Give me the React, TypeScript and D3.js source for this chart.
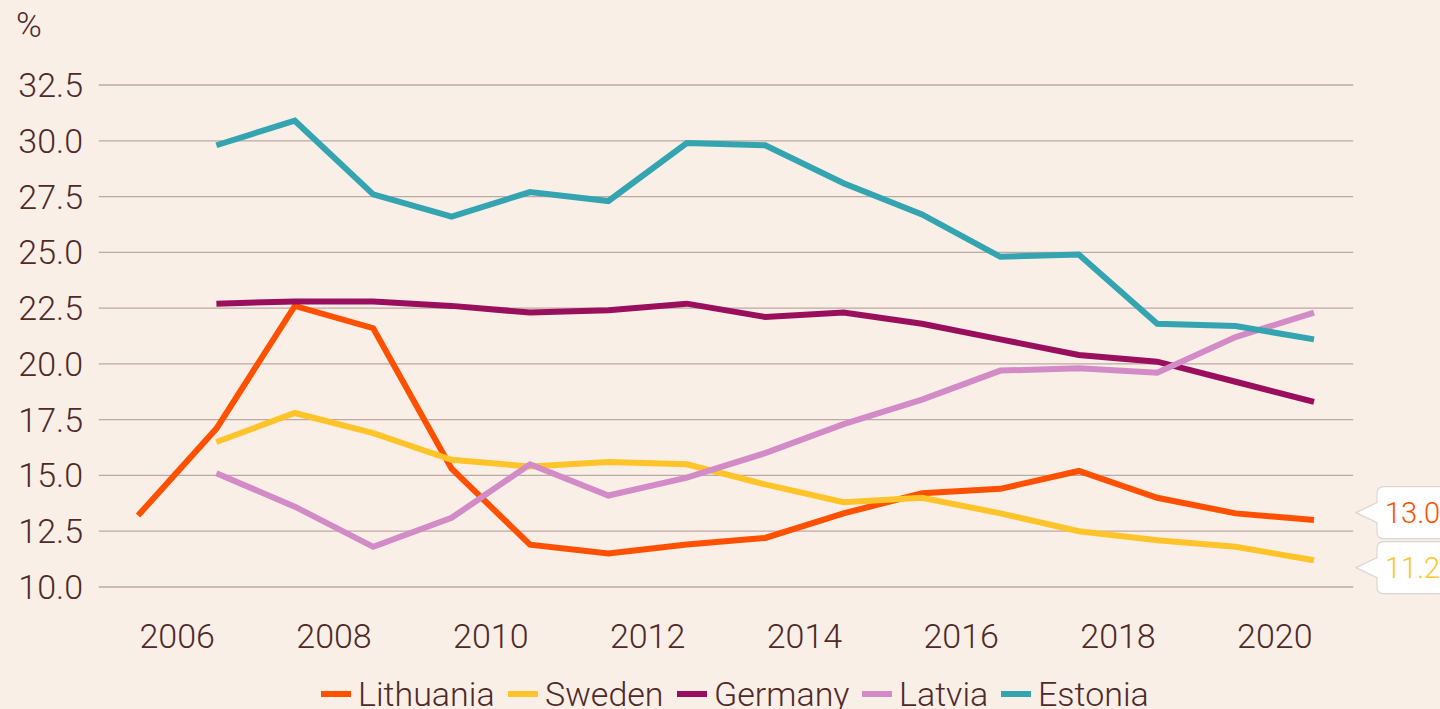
import React from "react";
import * as d3 from "d3";

const years = d3.range(2005, 2021);
const yTicks = [10.0, 12.5, 15.0, 17.5, 20.0, 22.5, 25.0, 27.5, 30.0, 32.5];
const xTickYears = [2006, 2008, 2010, 2012, 2014, 2016, 2018, 2020];

const lithuania = [13.2, 17.1, 22.6, 21.6, 15.3, 11.9, 11.5, 11.9, 12.2, 13.3, 14.2, 14.4, 15.2, 14.0, 13.3, 13.0];
const sweden = [null, 16.5, 17.8, 16.9, 15.7, 15.4, 15.6, 15.5, 14.6, 13.8, 14.0, 13.3, 12.5, 12.1, 11.8, 11.2];
const germany = [null, 22.7, 22.8, 22.8, 22.6, 22.3, 22.4, 22.7, 22.1, 22.3, 21.8, 21.1, 20.4, 20.1, 19.2, 18.3];
const latvia = [null, 15.1, 13.6, 11.8, 13.1, 15.5, 14.1, 14.9, 16.0, 17.3, 18.4, 19.7, 19.8, 19.6, 21.2, 22.3];
const estonia = [null, 29.8, 30.9, 27.6, 26.6, 27.7, 27.3, 29.9, 29.8, 28.1, 26.7, 24.8, 24.9, 21.8, 21.7, 21.1];

const seriesNames = ["Lithuania", "Sweden", "Germany", "Latvia", "Estonia"];
const seriesValues = [lithuania, sweden, germany, latvia, estonia];
const seriesColors = ["#ff5000", "#ffc42a", "#990f5d", "#d28bc6", "#33a4b0"];
const labelledSeries = ["Lithuania", "Sweden"];

const BG = "#f9efe6";
const TXT = "#4e2a2a";
const GRID = "#bba9a4";
const FONT = "Roboto, 'Noto Sans', sans-serif";

export default function App() {
  const W = 1440, H = 709;
  const x = d3.scaleLinear().domain([2005, 2020]).range([138, 1314]);
  const y = d3.scaleLinear().domain([10, 32.5]).range([587, 85]);
  const line = d3
    .line<number | null>()
    .defined((d) => d != null)
    .x((_, i) => x(years[i]))
    .y((d) => y(d as number));

  // end labels with simple dodge
  const labels = labelledSeries.map((name) => {
    const idx = seriesNames.indexOf(name);
    const vals = seriesValues[idx];
    const v = vals[vals.length - 1] as number;
    return { name, v, color: seriesColors[idx], cy: y(v) };
  });
  labels.sort((a, b) => a.cy - b.cy);
  const boxH = 52, gap = 3;
  for (let iter = 0; iter < 10; iter++) {
    for (let i = 1; i < labels.length; i++) {
      const need = boxH + gap - (labels[i].cy - labels[i - 1].cy);
      if (need > 0) {
        labels[i - 1].cy -= need / 2;
        labels[i].cy += need / 2;
      }
    }
  }

  // legend layout
  const legendFont = 34;
  const legendWidths = [134, 116, 132, 86, 109];
  const itemW = seriesNames.map((n, i) => 30 + 7 + legendWidths[i] + 16);
  const totalW = d3.sum(itemW) - 16;
  let lx = 734 - totalW / 2;
  const legendItems = seriesNames.map((n, i) => {
    const it = { name: n, color: seriesColors[i], x: lx };
    lx += itemW[i];
    return it;
  });

  return (
    <svg
      width={W}
      height={H}
      style={{ position: "absolute", left: 0, top: 0, display: "block", background: BG }}
      fontFamily={FONT}
    >
      <rect x={0} y={0} width={W} height={H} fill={BG} />
      <text x={16} y={37} fontSize={35} fontWeight={300} fill={TXT}>%</text>
      {yTicks.map((t) => (
        <g key={t}>
          <line x1={x(2004.5)} x2={x(2020.5)} y1={y(t)} y2={y(t)} stroke={GRID} strokeWidth={1.3} />
          <text x={83} y={y(t) + 12} textAnchor="end" fontSize={34} fontWeight={300} fill={TXT}>
            {t.toFixed(1)}
          </text>
        </g>
      ))}
      {xTickYears.map((yr) => (
        <text key={yr} x={x(yr - 0.5)} y={648} textAnchor="middle" fontSize={34} fontWeight={300} fill={TXT}>
          {yr}
        </text>
      ))}
      {seriesValues.map((vals, i) => (
        <path
          key={seriesNames[i]}
          d={line(vals) || ""}
          fill="none"
          stroke={seriesColors[i]}
          strokeWidth={6}
          strokeLinejoin="miter"
        />
      ))}
      {labels.map((l) => {
        const bx = 1377, by = l.cy - boxH / 2, r = 7;
        const tip = 1356;
        const path = `M${tip},${l.cy} L${bx},${l.cy - 10} L${bx},${by + r} Q${bx},${by} ${bx + r},${by} L${W + 20},${by} L${W + 20},${by + boxH} L${bx + r},${by + boxH} Q${bx},${by + boxH} ${bx},${by + boxH - r} L${bx},${l.cy + 10} Z`;
        return (
          <g key={l.name}>
            <path d={path} fill="#ffffff" stroke="#dcd6d2" strokeWidth={1.2} />
            <text x={1385} y={l.cy + 10} fontSize={29} fontWeight={300} fill={l.color}>
              {l.v.toFixed(1)}
            </text>
          </g>
        );
      })}
      {legendItems.map((it) => (
        <g key={it.name}>
          <rect x={it.x} y={691} width={30} height={6} fill={it.color} />
          <text x={it.x + 37} y={706} fontSize={legendFont} fontWeight={300} fill={TXT}>
            {it.name}
          </text>
        </g>
      ))}
    </svg>
  );
}
